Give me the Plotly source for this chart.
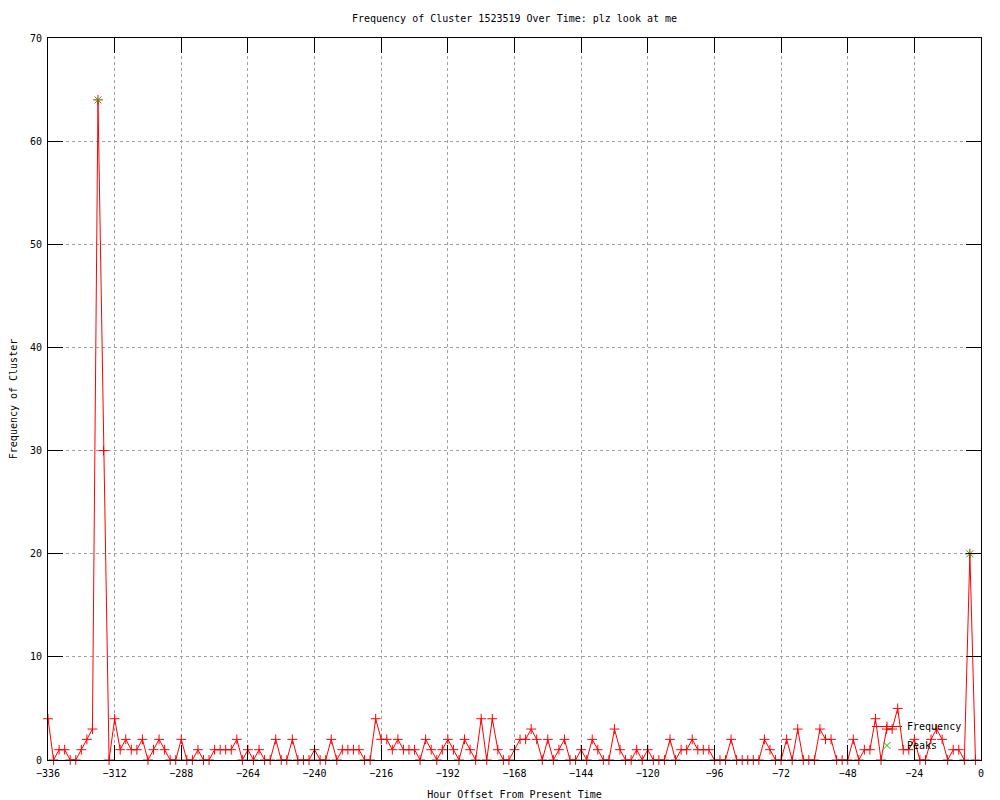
import plotly.graph_objects as go

# Hours (offset from present), every 2 hours
hours = list(range(-336, 0, 2))
frequency = [
    4, 0, 1, 1, 0, 0, 1, 2, 3, 64,
    30, 0, 4, 1, 2, 1, 1, 2, 0, 1,
    2, 1, 0, 0, 2, 0, 0, 1, 0, 0,
    1, 1, 1, 1, 2, 0, 1, 0, 1, 0,
    0, 2, 0, 0, 2, 0, 0, 0, 1, 0,
    0, 2, 0, 1, 1, 1, 1, 0, 0, 4,
    2, 2, 1, 2, 1, 1, 1, 0, 2, 1,
    0, 1, 2, 1, 0, 2, 1, 0, 4, 0,
    4, 1, 0, 0, 1, 2, 2, 3, 2, 0,
    2, 0, 1, 2, 0, 0, 1, 0, 2, 1,
    0, 0, 3, 1, 0, 0, 1, 0, 1, 0,
    0, 0, 2, 0, 1, 1, 2, 1, 1, 1,
    0, 0, 0, 2, 0, 0, 0, 0, 0, 2,
    1, 0, 0, 2, 0, 3, 0, 0, 0, 3,
    2, 2, 0, 0, 0, 2, 0, 1, 1, 4,
    0, 3, 3, 5, 1, 1, 2, 0, 0, 2,
    3, 2, 0, 1, 1, 0, 20, 0,
]
peak_hours = [-318, -4]
peak_values = [64, 20]

x_ticks = list(range(-336, 1, 24))
y_ticks = list(range(0, 71, 10))

FONT = "DejaVu Sans Mono"
W, H = 984, 792

fig = go.Figure()
fig.add_trace(go.Scatter(
    x=hours, y=frequency, mode="lines+markers", name="Frequency",
    line=dict(color="#ff0000", width=1),
    marker=dict(symbol="cross-thin-open", size=7, line=dict(color="#ff0000", width=1), color="#ff0000"),
    cliponaxis=False,
))
fig.add_trace(go.Scatter(
    x=peak_hours, y=peak_values, mode="markers", name="Peaks",
    marker=dict(symbol="x-thin-open", size=7, line=dict(color="#00c000", width=1), color="#00c000"),
    cliponaxis=False,
))

axis_common = dict(
    showline=True, linecolor="black", linewidth=1, mirror="allticks",
    ticks="inside", ticklen=15, tickcolor="black", tickwidth=1,
    showgrid=True, gridcolor="#a0a0a0", gridwidth=1, griddash="dot",
    zeroline=False, automargin=False,
    tickfont=dict(family=FONT, size=10, color="black"),
)

fig.update_layout(
    width=W, height=H,
    margin=dict(l=40, r=11, t=30, b=40, pad=0, autoexpand=False),
    paper_bgcolor="white", plot_bgcolor="white",
    font=dict(family=FONT, size=10, color="black"),
    title=dict(text="Frequency of Cluster 1523519 Over Time: plz look at me",
               x=0.5, xref="paper", y=1 - 10 / H, yanchor="middle",
               font=dict(family=FONT, size=10, color="black")),
    xaxis=dict(range=[-336, 0], tickvals=x_ticks, ticklabelstandoff=4,
               title=dict(text="Hour Offset From Present Time", standoff=18,
                          font=dict(family=FONT, size=10)), **axis_common),
    yaxis=dict(range=[0, 70], tickvals=y_ticks, ticklabelstandoff=3,
               title=dict(text="Frequency of Cluster", standoff=12,
                          font=dict(family=FONT, size=10)), **axis_common),
    legend=dict(x=0.985, xanchor="right", y=0.0, yanchor="bottom",
                bgcolor="rgba(0,0,0,0)", font=dict(family=FONT, size=10),
                tracegroupgap=0, itemwidth=30),
    showlegend=True,
)

fig.write_html("out.html")
